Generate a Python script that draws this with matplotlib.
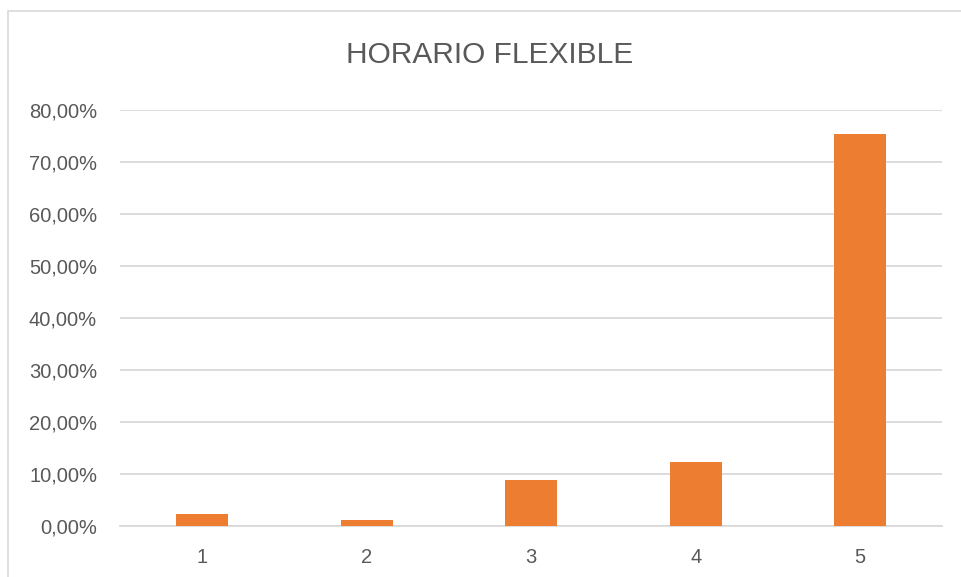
import matplotlib
matplotlib.use("Agg")
import matplotlib.pyplot as plt
from matplotlib.patches import Rectangle
from matplotlib.ticker import FuncFormatter

# respuestas por nivel de la escala
categorias = ["1", "2", "3", "4", "5"]
porcentajes = [2.18, 1.09, 8.87, 12.18, 75.5]
marcas_y = [0, 10, 20, 30, 40, 50, 60, 70, 80]

texto = "#595959"
naranja = "#ED7D31"
rejilla = "#D9D9D9"

plt.rcParams["font.family"] = ["Liberation Sans", "DejaVu Sans"]

fig = plt.figure(figsize=(9.61, 5.77), dpi=100)
ax = fig.add_axes([120 / 961, 0.0889, (942.4 - 120) / 961, 0.8088 - 0.0889])

# marco del grafico (sigue fuera del lienzo por la derecha y por abajo)
fig.patches.append(Rectangle((8 / 961, -0.05), 1.2, 1.05 - 11 / 577, transform=fig.transFigure,
                             fill=False, edgecolor=rejilla, linewidth=1.2))

x = list(range(len(categorias)))
ax.bar(x, porcentajes, width=0.315, color=naranja, zorder=3)

ax.set_xlim(-0.5, len(categorias) - 0.5)
ax.set_ylim(0, 80)
ax.set_yticks(marcas_y)
ax.yaxis.set_major_formatter(FuncFormatter(lambda v, p: f"{v:.2f}".replace(".", ",") + "%"))
ax.set_xticks(x)
ax.set_xticklabels(categorias)

ax.grid(axis="y", color=rejilla, linewidth=1.3, zorder=0)
for lado in ["top", "right", "left"]:
    ax.spines[lado].set_visible(False)
ax.spines["bottom"].set_color(rejilla)
ax.spines["bottom"].set_linewidth(1.3)
ax.tick_params(length=0, labelsize=14.5, labelcolor=texto)
ax.tick_params(axis="x", pad=16)
ax.tick_params(axis="y", pad=16.5)

fig.text(490 / 961, 1 - 55 / 577, "HORARIO FLEXIBLE", ha="center", va="center",
         fontsize=21.5, color=texto)

fig.savefig("out.png", dpi=100)
